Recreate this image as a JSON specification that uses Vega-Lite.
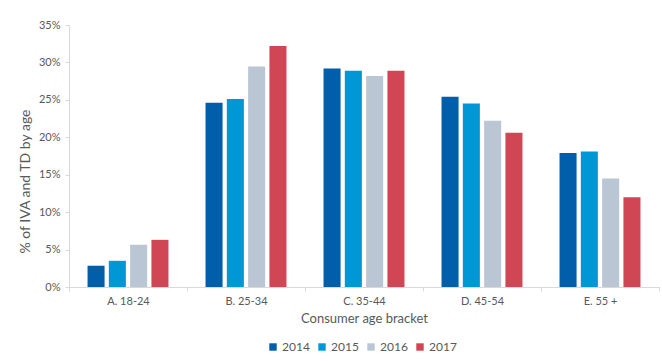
{
  "$schema": "https://vega.github.io/schema/vega-lite/v6.json",
  "autosize": "none",
  "width": 590,
  "height": 262,
  "padding": {"left": 69, "top": 25, "right": 3, "bottom": 74},
  "background": "white",
  "config": {
    "font": "Lato",
    "view": {"stroke": null},
    "axis": {"labelColor": "#595959", "titleColor": "#595959", "domainColor": "#D9D9D9", "tickColor": "#D9D9D9", "grid": false, "labelFont": "Lato", "titleFont": "Lato", "titleFontWeight": "normal"},
    "legend": {"labelColor": "#595959", "labelFont": "Lato"}
  },
  "data": {
    "values": [
      {"age": "A. 18-24", "year": "2014", "value": 0.0284},
      {"age": "A. 18-24", "year": "2015", "value": 0.035},
      {"age": "A. 18-24", "year": "2016", "value": 0.0565},
      {"age": "A. 18-24", "year": "2017", "value": 0.063},
      {"age": "B. 25-34", "year": "2014", "value": 0.246},
      {"age": "B. 25-34", "year": "2015", "value": 0.251},
      {"age": "B. 25-34", "year": "2016", "value": 0.2945},
      {"age": "B. 25-34", "year": "2017", "value": 0.322},
      {"age": "C. 35-44", "year": "2014", "value": 0.292},
      {"age": "C. 35-44", "year": "2015", "value": 0.289},
      {"age": "C. 35-44", "year": "2016", "value": 0.282},
      {"age": "C. 35-44", "year": "2017", "value": 0.289},
      {"age": "D. 45-54", "year": "2014", "value": 0.254},
      {"age": "D. 45-54", "year": "2015", "value": 0.245},
      {"age": "D. 45-54", "year": "2016", "value": 0.222},
      {"age": "D. 45-54", "year": "2017", "value": 0.206},
      {"age": "E. 55 +", "year": "2014", "value": 0.179},
      {"age": "E. 55 +", "year": "2015", "value": 0.181},
      {"age": "E. 55 +", "year": "2016", "value": 0.145},
      {"age": "E. 55 +", "year": "2017", "value": 0.120}
    ]
  },
  "mark": {"type": "bar"},
  "encoding": {
    "x": {
      "field": "age", "type": "nominal",
      "scale": {"paddingInner": 0, "paddingOuter": 0},
      "axis": {"title": "Consumer age bracket", "labelAngle": 0, "tickBand": "extent", "labelFontSize": 11, "titleFontSize": 13, "labelPadding": 4, "tickSize": 4, "titlePadding": 6}
    },
    "xOffset": {
      "field": "year", "type": "nominal",
      "scale": {"paddingInner": 0.2, "paddingOuter": 0.87}
    },
    "y": {
      "field": "value", "type": "quantitative",
      "scale": {"domain": [0, 0.35], "nice": false},
      "axis": {"title": "% of IVA and TD by age", "format": ".0%", "values": [0, 0.05, 0.1, 0.15, 0.2, 0.25, 0.3, 0.35], "labelFontSize": 11, "titleFontSize": 14, "tickSize": 4, "labelPadding": 5, "titleX": -44, "titleY": 156, "titleAlign": "center", "titleBaseline": "middle"}
    },
    "color": {
      "field": "year", "type": "nominal",
      "scale": {"domain": ["2014", "2015", "2016", "2017"], "range": ["#005EAA", "#0097D7", "#BAC6D3", "#D04654"]},
      "legend": {"title": null, "orient": "none", "legendX": 198, "legendY": 316, "direction": "horizontal", "symbolType": "square", "symbolSize": 55, "labelFontSize": 12, "labelOffset": 3, "columnPadding": 6, "symbolOffset": 0, "padding": 0}
    }
  }
}
